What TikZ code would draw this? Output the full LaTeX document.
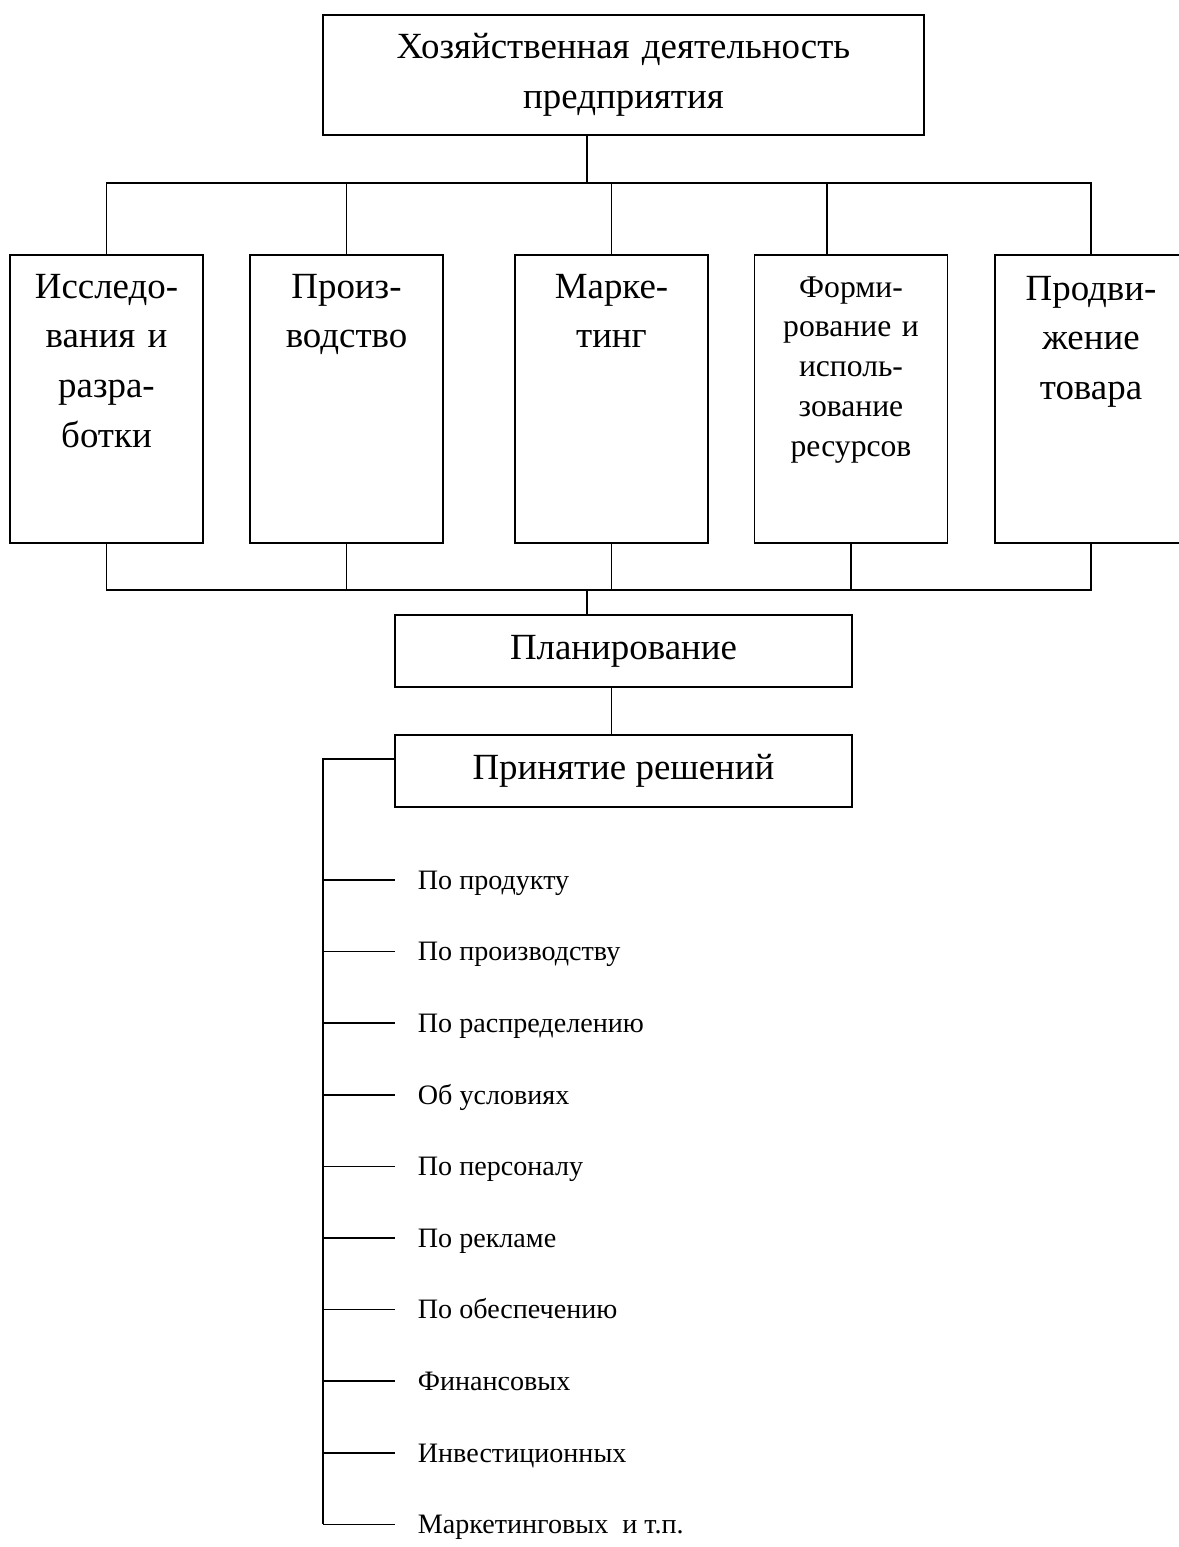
\documentclass[tikz,border=0pt]{standalone}
\usepackage{fontspec}
\setmainfont{Liberation Serif}

\begin{document}
\begin{tikzpicture}[x=0.02cm, y=-0.02cm, line width=1pt,
    box/.style={draw, line width=1.1pt, inner sep=0pt},
    colbox/.style={box, minimum width=3.86cm, minimum height=5.76cm},
    coltext/.style={anchor=base, text width=3.6cm, align=center, inner sep=0pt,
        font=\fontsize{21}{28.4}\selectfont},
    item/.style={anchor=west, inner xsep=0.44cm, inner ysep=0pt,
        text height=13pt, text depth=2.4pt, font=\fontsize{16}{19}\selectfont}]
    \useasboundingbox (0,0) rectangle (1178,1547);

    % верхний блок
    \node[box, minimum width=12.02cm, minimum height=2.4cm, text width=11.5cm, align=center,
        font=\fontsize{21}{28.4}\selectfont] (hd) at (623.5,75)
        {Хозяйственная деятельность\\предприятия};

    % виды деятельности
    \node[colbox] (res) at (106.5,399) {};
    \node[colbox] (pro) at (346.5,399) {};
    \node[colbox] (mar) at (611.5,399) {};
    \node[colbox] (frm) at (851,399) {};
    \node[colbox] (prd) at (1091,399) {};

    \node[coltext] (res-t) at (106.5,298) {Исследо-\\вания и\\разра-\\ботки};
    \node[coltext] (pro-t) at (346.5,298) {Произ-\\водство};
    \node[coltext] (mar-t) at (611.5,298) {Марке-\\тинг};
    \node[coltext, font=\fontsize{18}{22.7}\selectfont] (frm-t) at (851,297)
        {Форми-\\рование и\\исполь-\\зование\\ресурсов};
    \node[coltext] (prd-t) at (1091,300) {Продви-\\жение\\товара};

    % шина сверху
    \coordinate (bus1) at (587,183);
    \coordinate (frmin) at ([xshift=-0.48cm]frm.north);
    \draw (hd.south -| bus1) -- (bus1);
    \draw (res.north) |- (bus1) -| (prd.north);
    \foreach \n in {pro,mar} \draw (\n.north) -- (\n.north |- bus1);
    \draw (frmin) -- (frmin |- bus1);

    % шина снизу
    \coordinate (bus2) at (587,590);
    \draw (res.south) |- (bus2) -| (prd.south);
    \foreach \n in {pro,mar,frm} \draw (\n.south) -- (\n.south |- bus2);

    % планирование и решения
    \node[box, minimum width=9.14cm, minimum height=1.44cm,
        font=\fontsize{21}{26}\selectfont] (pl) at (623.5,651) {Планирование};
    \node[box, minimum width=9.14cm, minimum height=1.44cm,
        font=\fontsize{21}{26}\selectfont] (pr) at (623.5,771) {Принятие решений};
    \draw (bus2) -- (bus2 |- pl.north);
    \draw (pl.south -| mar.south) -- (pr.north -| mar.south);

    % список решений
    \coordinate (sp) at (323,759);
    \foreach \txt [count=\i] in {По продукту, По производству, По распределению,
        Об условиях, По персоналу, По рекламе, По обеспечению, Финансовых,
        Инвестиционных, Маркетинговых~ и т.п.} {
        \node[item] (d\i) at (395,{880+71.6*(\i-1)}) {\txt};
        \draw (d\i.west -| sp) -- (d\i.west);
    }
    \draw (pr.west |- sp) -- (sp) -- (sp |- d10.west);
\end{tikzpicture}
\end{document}
